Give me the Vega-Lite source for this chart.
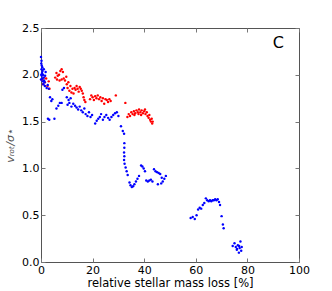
{
  "$schema": "https://vega.github.io/schema/vega-lite/v6.json",
  "width": 258,
  "height": 234,
  "autosize": "none",
  "padding": {"left": 41, "top": 28, "right": 33, "bottom": 29},
  "config": {
    "font": "DejaVu Sans",
    "view": {"stroke": "#555555", "strokeWidth": 1},
    "axis": {
      "domain": false,
      "grid": false,
      "tickSize": -4,
      "tickColor": "#777777",
      "labelPadding": 6,
      "labelFlush": false,
      "labelOverlap": false,
      "labelFontSize": 11,
      "labelColor": "#000000",
      "titleFontSize": 11.5,
      "titleFontWeight": "normal",
      "titleColor": "#000000"
    }
  },
  "datasets": {
    "pts": [
      {"s":"red","x":0.5,"y":1.95},{"s":"red","x":0.8,"y":1.9},{"s":"red","x":1.2,"y":1.97},{"s":"red","x":1.5,"y":1.92},{"s":"red","x":2,"y":1.96},{"s":"red","x":2.5,"y":1.88},{"s":"red","x":3,"y":1.93},{"s":"red","x":3.3,"y":1.85},
      {"s":"red","x":5.5,"y":1.97},{"s":"red","x":6,"y":2.02},{"s":"red","x":6.5,"y":1.99},{"s":"red","x":7,"y":2.0},{"s":"red","x":7.5,"y":2.04},{"s":"red","x":8,"y":2.06},{"s":"red","x":8.5,"y":2.03},{"s":"red","x":6.2,"y":1.95},{"s":"red","x":7.2,"y":1.94},{"s":"red","x":8,"y":1.95},{"s":"red","x":8.8,"y":1.96},{"s":"red","x":9.3,"y":1.94},{"s":"red","x":9.8,"y":1.98},
      {"s":"red","x":10,"y":1.9},{"s":"red","x":10.3,"y":1.86},{"s":"red","x":10.6,"y":1.92},{"s":"red","x":11,"y":1.83},{"s":"red","x":11.4,"y":1.88},{"s":"red","x":11.8,"y":1.81},{"s":"red","x":12.2,"y":1.85},{"s":"red","x":12.6,"y":1.8},{"s":"red","x":13,"y":1.86},{"s":"red","x":13.4,"y":1.84},{"s":"red","x":13.8,"y":1.88},{"s":"red","x":14.2,"y":1.85},{"s":"red","x":14.6,"y":1.82},{"s":"red","x":15,"y":1.87},{"s":"red","x":15.4,"y":1.85},{"s":"red","x":15.8,"y":1.83},{"s":"red","x":16.2,"y":1.8},{"s":"red","x":16.5,"y":1.76},{"s":"red","x":16.8,"y":1.73},{"s":"red","x":17.2,"y":1.71},
      {"s":"red","x":19,"y":1.74},{"s":"red","x":19.5,"y":1.78},{"s":"red","x":20,"y":1.76},{"s":"red","x":20.5,"y":1.73},{"s":"red","x":21,"y":1.77},{"s":"red","x":21.5,"y":1.75},{"s":"red","x":22,"y":1.78},{"s":"red","x":22.5,"y":1.74},{"s":"red","x":23,"y":1.76},{"s":"red","x":23.5,"y":1.72},{"s":"red","x":24,"y":1.75},{"s":"red","x":24.5,"y":1.69},{"s":"red","x":25,"y":1.74},{"s":"red","x":25.5,"y":1.73},{"s":"red","x":26,"y":1.71},{"s":"red","x":26.5,"y":1.74},{"s":"red","x":27,"y":1.72},{"s":"red","x":29,"y":1.78},{"s":"red","x":32.7,"y":1.7},
      {"s":"red","x":33.5,"y":1.55},{"s":"red","x":34,"y":1.58},{"s":"red","x":34.5,"y":1.56},{"s":"red","x":35,"y":1.6},{"s":"red","x":35.5,"y":1.58},{"s":"red","x":36,"y":1.61},{"s":"red","x":36.5,"y":1.59},{"s":"red","x":37,"y":1.62},{"s":"red","x":37.5,"y":1.6},{"s":"red","x":38,"y":1.63},{"s":"red","x":38.5,"y":1.6},{"s":"red","x":39,"y":1.62},{"s":"red","x":39.5,"y":1.59},{"s":"red","x":40,"y":1.61},{"s":"red","x":40.5,"y":1.58},{"s":"red","x":41,"y":1.6},{"s":"red","x":41.3,"y":1.56},{"s":"red","x":41.7,"y":1.54},{"s":"red","x":42,"y":1.57},{"s":"red","x":42.3,"y":1.52},{"s":"red","x":42.6,"y":1.5},{"s":"red","x":42.9,"y":1.53},{"s":"red","x":43.1,"y":1.48},{"s":"red","x":43.3,"y":1.5},{"s":"red","x":36.2,"y":1.57},{"s":"red","x":38.8,"y":1.57},{"s":"red","x":40.3,"y":1.63},{"s":"red","x":37.8,"y":1.58},
      {"s":"blue","x":0,"y":2.19},{"s":"blue","x":0.2,"y":2.15},{"s":"blue","x":0.1,"y":2.12},{"s":"blue","x":0.3,"y":2.1},{"s":"blue","x":0.5,"y":2.08},{"s":"blue","x":0.2,"y":2.06},{"s":"blue","x":0.6,"y":2.04},{"s":"blue","x":0.4,"y":2.02},{"s":"blue","x":0.8,"y":2.0},{"s":"blue","x":0.3,"y":1.99},{"s":"blue","x":1.0,"y":1.97},{"s":"blue","x":0.5,"y":1.96},{"s":"blue","x":1.2,"y":1.94},{"s":"blue","x":0.7,"y":1.93},{"s":"blue","x":1.4,"y":1.92},{"s":"blue","x":0.9,"y":1.9},{"s":"blue","x":1.6,"y":1.99},{"s":"blue","x":1.8,"y":2.03},{"s":"blue","x":0.1,"y":2.0},{"s":"blue","x":0.0,"y":1.95},{"s":"blue","x":1.1,"y":2.06},{"s":"blue","x":1.5,"y":1.88},
      {"s":"blue","x":2.2,"y":1.86},{"s":"blue","x":2.6,"y":1.89},{"s":"blue","x":3,"y":1.85},{"s":"blue","x":3.5,"y":1.76},{"s":"blue","x":4,"y":1.72},{"s":"blue","x":4.4,"y":1.74},{"s":"blue","x":2.7,"y":1.53},{"s":"blue","x":3.2,"y":1.52},{"s":"blue","x":5.2,"y":1.53},
      {"s":"blue","x":6,"y":1.64},{"s":"blue","x":6.7,"y":1.67},{"s":"blue","x":7.3,"y":1.7},{"s":"blue","x":8,"y":1.7},{"s":"blue","x":8.3,"y":1.84},{"s":"blue","x":8.9,"y":1.86},
      {"s":"blue","x":10,"y":1.76},{"s":"blue","x":10.7,"y":1.73},{"s":"blue","x":11.5,"y":1.75},{"s":"blue","x":10.3,"y":1.68},{"s":"blue","x":11,"y":1.7},{"s":"blue","x":11.8,"y":1.66},{"s":"blue","x":12.5,"y":1.69},{"s":"blue","x":13.2,"y":1.67},{"s":"blue","x":13.8,"y":1.65},{"s":"blue","x":14.4,"y":1.63},{"s":"blue","x":15,"y":1.66},{"s":"blue","x":15.6,"y":1.62},{"s":"blue","x":16.2,"y":1.6},{"s":"blue","x":16.8,"y":1.64},{"s":"blue","x":17.3,"y":1.58},
      {"s":"blue","x":18,"y":1.56},{"s":"blue","x":18.6,"y":1.6},{"s":"blue","x":19.2,"y":1.55},{"s":"blue","x":19.8,"y":1.57},{"s":"blue","x":21,"y":1.48},{"s":"blue","x":21.6,"y":1.51},{"s":"blue","x":22.2,"y":1.53},{"s":"blue","x":22.8,"y":1.55},
      {"s":"blue","x":23.3,"y":1.58},{"s":"blue","x":24,"y":1.52},{"s":"blue","x":24.6,"y":1.55},{"s":"blue","x":25.3,"y":1.57},{"s":"blue","x":26,"y":1.54},{"s":"blue","x":26.6,"y":1.52},{"s":"blue","x":27.3,"y":1.55},{"s":"blue","x":28,"y":1.57},{"s":"blue","x":28.7,"y":1.59},{"s":"blue","x":29.4,"y":1.6},{"s":"blue","x":30,"y":1.56},
      {"s":"blue","x":31,"y":1.45},{"s":"blue","x":31.7,"y":1.4},{"s":"blue","x":32.2,"y":1.37},{"s":"blue","x":32.3,"y":1.27},{"s":"blue","x":32.3,"y":1.22},{"s":"blue","x":32.2,"y":1.17},{"s":"blue","x":32.3,"y":1.13},{"s":"blue","x":32.2,"y":1.09},{"s":"blue","x":32.4,"y":1.05},{"s":"blue","x":32.8,"y":1.01},{"s":"blue","x":33.2,"y":0.97},{"s":"blue","x":33.6,"y":0.93},
      {"s":"blue","x":34.3,"y":0.85},{"s":"blue","x":34.7,"y":0.82},{"s":"blue","x":35.2,"y":0.8},{"s":"blue","x":35.7,"y":0.81},{"s":"blue","x":36.2,"y":0.83},{"s":"blue","x":36.8,"y":0.86},{"s":"blue","x":37.4,"y":0.89},{"s":"blue","x":38,"y":0.92},
      {"s":"blue","x":38.8,"y":1.03},{"s":"blue","x":39.3,"y":1.02},{"s":"blue","x":39.8,"y":1.0},{"s":"blue","x":40.3,"y":0.97},{"s":"blue","x":40.8,"y":0.87},{"s":"blue","x":41.4,"y":0.86},{"s":"blue","x":42,"y":0.87},{"s":"blue","x":42.6,"y":0.88},{"s":"blue","x":43.2,"y":0.86},
      {"s":"blue","x":43.8,"y":0.99},{"s":"blue","x":44.4,"y":0.97},{"s":"blue","x":45,"y":0.96},{"s":"blue","x":45.6,"y":0.95},{"s":"blue","x":46.2,"y":0.94},{"s":"blue","x":46.8,"y":0.9},{"s":"blue","x":45.3,"y":0.83},{"s":"blue","x":46.6,"y":0.84},{"s":"blue","x":47.2,"y":0.86},{"s":"blue","x":47.8,"y":0.89},{"s":"blue","x":48.4,"y":0.92},
      {"s":"blue","x":58,"y":0.47},{"s":"blue","x":58.8,"y":0.48},{"s":"blue","x":59.6,"y":0.46},{"s":"blue","x":60.3,"y":0.5},{"s":"blue","x":60.9,"y":0.56},{"s":"blue","x":61.5,"y":0.58},{"s":"blue","x":62.1,"y":0.57},{"s":"blue","x":62.7,"y":0.61},{"s":"blue","x":63.3,"y":0.63},{"s":"blue","x":63.9,"y":0.68},{"s":"blue","x":64.4,"y":0.66},{"s":"blue","x":65,"y":0.65},{"s":"blue","x":65.5,"y":0.66},{"s":"blue","x":66,"y":0.65},{"s":"blue","x":66.5,"y":0.66},{"s":"blue","x":67,"y":0.66},{"s":"blue","x":67.5,"y":0.67},{"s":"blue","x":68,"y":0.66},{"s":"blue","x":68.5,"y":0.67},{"s":"blue","x":69,"y":0.64},{"s":"blue","x":69.4,"y":0.61},{"s":"blue","x":70,"y":0.49},{"s":"blue","x":70.5,"y":0.4},{"s":"blue","x":70.8,"y":0.36},
      {"s":"blue","x":74.3,"y":0.17},{"s":"blue","x":75,"y":0.2},{"s":"blue","x":75.5,"y":0.16},{"s":"blue","x":75.9,"y":0.13},{"s":"blue","x":76.3,"y":0.18},{"s":"blue","x":76.7,"y":0.1},{"s":"blue","x":77,"y":0.15},{"s":"blue","x":77.3,"y":0.22},{"s":"blue","x":77.6,"y":0.12},{"s":"blue","x":77.8,"y":0.16},{"s":"blue","x":76,"y":0.14},{"s":"blue","x":76.8,"y":0.17}
    ],
    "lbl": [{"x": 92, "y": 2.29, "label": "C"}]
  },
  "resolve": {"axis": {"x": "independent", "y": "independent"}},
  "layer": [
    {
      "data": {"name": "pts"},
      "mark": {"type": "point", "shape": "circle", "filled": true, "size": 6, "opacity": 1},
      "encoding": {
        "x": {"field": "x", "type": "quantitative", "scale": {"domain": [0, 100], "nice": false},
              "axis": {"orient": "bottom", "values": [0, 20, 40, 60, 80, 100], "title": "relative stellar mass loss [%]", "titlePadding": 2}},
        "y": {"field": "y", "type": "quantitative", "scale": {"domain": [0, 2.5], "nice": false},
              "axis": {"orient": "left", "values": [0, 0.5, 1, 1.5, 2, 2.5], "format": ".1f", "title": "vᵣₒₜ/σ⋆", "titleFontSize": 11, "titleFontStyle": "italic", "titleColor": "#555555", "titlePadding": 6}},
        "color": {"field": "s", "type": "nominal", "scale": {"domain": ["red", "blue"], "range": ["#ff0000", "#0000ff"]}, "legend": null}
      }
    },
    {
      "data": {"name": "lbl"},
      "mark": {"type": "text", "fontSize": 16, "align": "center", "baseline": "alphabetic", "color": "#000000"},
      "encoding": {
        "x": {"field": "x", "type": "quantitative", "scale": {"domain": [0, 100], "nice": false},
              "axis": {"orient": "top", "values": [0, 20, 40, 60, 80, 100], "labels": false, "title": null}},
        "y": {"field": "y", "type": "quantitative", "scale": {"domain": [0, 2.5], "nice": false},
              "axis": {"orient": "right", "values": [0, 0.5, 1, 1.5, 2, 2.5], "labels": false, "title": null}},
        "text": {"field": "label"}
      }
    }
  ]
}
